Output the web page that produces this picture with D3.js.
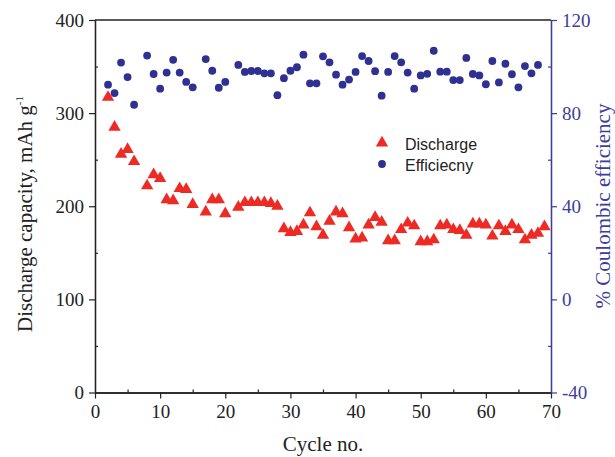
<!DOCTYPE html>
<html>
<head>
<meta charset="utf-8">
<script src="https://cdn.jsdelivr.net/npm/d3@7"></script>
<style>
  body { margin: 0; background: #fff; }
  svg { display: block; }
</style>
</head>
<body>
<svg id="chart" width="615" height="457"></svg>
<script>
// cycle numbers (7, 16, 21 not plotted in the original)
const cycles = [2,3,4,5,6,8,9,10,11,12,13,14,15,17,18,19,20,22,23,24,25,26,27,28,29,30,
  31,32,33,34,35,36,37,38,39,40,41,42,43,44,45,46,47,48,49,50,51,52,53,54,55,56,57,58,59,60,
  61,62,63,64,65,66,67,68,69];

// discharge capacity, mAh/g
const discharge = [317,285,256,261,248,222,234,230,207,206,219,218,202,194,207,207,192,199,204,204,
  204,204,203,200,176,172,173,180,193,178,169,184,194,192,177,165,166,180,188,183,163,163,175,182,
  179,162,162,164,179,180,175,174,169,181,181,180,168,179,173,180,175,164,169,171,178];

// coulombic efficiency, % (no point at the last cycle)
const efficiency = [92.2,88.6,101.7,95.5,83.6,104.7,96.8,90.5,97.4,102.9,97.4,93.4,91.1,103.2,98.2,90.9,
  93.4,100.7,97.7,98.1,98.1,97.1,97.1,87.7,95,98.2,99.7,105.1,92.8,92.8,104.4,101.8,96.5,92.2,94.4,
  97.7,104.5,102.4,98,87.5,97.7,104.5,101.8,97.4,90.5,96.2,96.9,106.8,97.8,97.8,94.2,94.2,103.7,96.8,
  96.2,92.4,102.4,93.2,101.2,96.7,91.1,100.2,97.1,100.7];

const xTicks = [0,10,20,30,40,50,60,70];
const xMinor = [5,15,25,35,45,55,65];
const yTicks = [0,100,200,300,400];
const yMinor = [50,150,250,350];
const y2Ticks = [-40,0,40,80,120];
const y2Minor = [-20,20,60,100];

const red = "#ee2a24";
const navy = "#2e3192";
const axisBlue = "#3d3d9a";

const plot = { left: 95, right: 551, top: 20, bottom: 392.5 };

const svg = d3.select("#chart");

const x = d3.scaleLinear().domain([0, 70]).range([plot.left, plot.right]);
const y = d3.scaleLinear().domain([0, 400]).range([plot.bottom, plot.top]);
const y2 = d3.scaleLinear().domain([-40, 120]).range([plot.bottom, plot.top]);

const serif = "'Liberation Serif', 'Times New Roman', serif";
const plain = d => String(d);  // keep the short hyphen on "-40"

function styleAxis(g, color) {
  g.select(".domain").attr("stroke", color).attr("stroke-width", 1.3);
  g.selectAll(".tick line").attr("stroke", color).attr("stroke-width", 1.2);
  g.selectAll(".tick text")
    .attr("fill", color)
    .style("font-family", serif)
    .style("font-size", "19px");
}

// top border
svg.append("line")
  .attr("x1", plot.left).attr("x2", plot.right)
  .attr("y1", plot.top).attr("y2", plot.top)
  .attr("stroke", "#222").attr("stroke-width", 1.3);

// bottom axis
svg.append("g")
  .attr("transform", "translate(0," + plot.bottom + ")")
  .call(d3.axisBottom(x).tickValues(xMinor).tickSize(-3).tickSizeOuter(0).tickFormat(""))
  .call(g => styleAxis(g, "#222"));
svg.append("g")
  .attr("transform", "translate(0," + plot.bottom + ")")
  .call(d3.axisBottom(x).tickValues(xTicks).tickSize(6).tickSizeOuter(0).tickPadding(6).tickFormat(plain))
  .call(g => styleAxis(g, "#222"));

// left axis
svg.append("g")
  .attr("transform", "translate(" + plot.left + ",0)")
  .call(d3.axisLeft(y).tickValues(yMinor).tickSize(-3).tickSizeOuter(0).tickFormat(""))
  .call(g => styleAxis(g, "#222"));
svg.append("g")
  .attr("transform", "translate(" + plot.left + ",0)")
  .call(d3.axisLeft(y).tickValues(yTicks).tickSize(6).tickSizeOuter(0).tickPadding(5).tickFormat(plain))
  .call(g => styleAxis(g, "#222"));

// right axis (efficiency)
svg.append("g")
  .attr("transform", "translate(" + plot.right + ",0)")
  .call(d3.axisRight(y2).tickValues(y2Minor).tickSize(-3).tickSizeOuter(0).tickFormat(""))
  .call(g => styleAxis(g, axisBlue));
svg.append("g")
  .attr("transform", "translate(" + plot.right + ",0)")
  .call(d3.axisRight(y2).tickValues(y2Ticks).tickSize(6).tickSizeOuter(0).tickPadding(5).tickFormat(plain))
  .call(g => styleAxis(g, axisBlue));

// efficiency dots
svg.append("g").selectAll("circle")
  .data(efficiency)
  .enter().append("circle")
  .attr("cx", (d, i) => x(cycles[i]))
  .attr("cy", d => y2(d))
  .attr("r", 3.9)
  .attr("fill", navy);

// discharge triangles
const tri = d3.symbol().type(d3.symbolTriangle).size(66);
svg.append("g").selectAll("path")
  .data(discharge)
  .enter().append("path")
  .attr("d", tri)
  .attr("transform", (d, i) => "translate(" + x(cycles[i]) + "," + y(d) + ")")
  .attr("fill", red);

// legend
const legend = svg.append("g").style("font-family", "'Liberation Sans', Arial, sans-serif").style("font-size", "16px");
legend.append("path").attr("d", tri).attr("fill", red).attr("transform", "translate(382,143)");
legend.append("text").attr("x", 405).attr("y", 150).attr("fill", "#222").text("Discharge");
legend.append("circle").attr("cx", 382).attr("cy", 164).attr("r", 3.9).attr("fill", navy);
legend.append("text").attr("x", 405).attr("y", 171).attr("fill", "#222").text("Efficiecny");

// axis titles
svg.append("text")
  .attr("x", (plot.left + plot.right) / 2)
  .attr("y", 451)
  .attr("text-anchor", "middle")
  .style("font-family", serif)
  .style("font-size", "21px")
  .attr("fill", "#222")
  .text("Cycle no.");

const ylab = svg.append("text")
  .attr("transform", "translate(32,214) rotate(-90)")
  .attr("text-anchor", "middle")
  .style("font-family", serif)
  .style("font-size", "21px")
  .attr("fill", "#222");
ylab.append("tspan").text("Discharge capacity, mAh g");
ylab.append("tspan").attr("dy", -9).style("font-size", "11px").text("-1");

svg.append("text")
  .attr("transform", "translate(610,206) rotate(-90)")
  .attr("text-anchor", "middle")
  .style("font-family", serif)
  .style("font-size", "21px")
  .attr("fill", axisBlue)
  .text("% Coulombic efficiency");
</script>
</body>
</html>
